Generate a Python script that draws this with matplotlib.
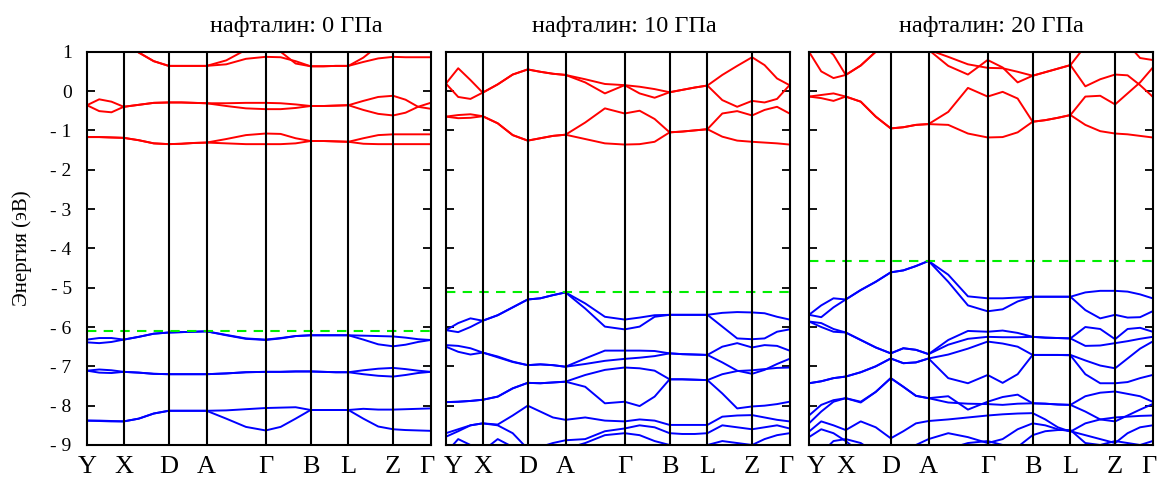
import numpy as np
import matplotlib
matplotlib.use("Agg")
import matplotlib.pyplot as plt
import matplotlib.transforms as mtrans

plt.rcParams['font.family'] = ['Liberation Serif', 'DejaVu Serif']

# high-symmetry path (relative positions along k-path)
kpoints = ['Y', 'X', 'D', 'A', 'Γ', 'B', 'L', 'Z', 'Γ']
kpos = [0, 0.107, 0.238, 0.348, 0.52, 0.651, 0.761, 0.891, 1.0]

titles = ['нафталин: 0 ГПа', 'нафталин: 10 ГПа', 'нафталин: 20 ГПа']
vbm = [-6.11, -5.12, -4.32]
yticks = [1, 0, -1, -2, -3, -4, -5, -6, -7, -8, -9]
yticklabels = ['1', '0', '- 1', '- 2', '- 3', '- 4', '- 5', '- 6', '- 7', '- 8', '- 9']

# energies (eV) at each point and at 1/3, 2/3 of every segment (25 values)
cond_0 = [
    [-1.17, -1.17, -1.18, -1.19, -1.25, -1.33, -1.35, -1.34, -1.32, -1.31, -1.33, -1.35, -1.35, -1.35, -1.33, -1.27, -1.27, -1.28, -1.29, -1.34, -1.35, -1.35, -1.35, -1.35, -1.35],
    [-1.17, -1.17, -1.18, -1.19, -1.25, -1.33, -1.35, -1.34, -1.32, -1.31, -1.22, -1.12, -1.08, -1.09, -1.2, -1.27, -1.27, -1.28, -1.29, -1.2, -1.12, -1.1, -1.1, -1.1, -1.1],
    [-0.36, -0.51, -0.54, -0.4, -0.35, -0.3, -0.29, -0.29, -0.3, -0.31, -0.38, -0.44, -0.46, -0.46, -0.43, -0.38, -0.38, -0.37, -0.36, -0.48, -0.58, -0.62, -0.55, -0.4, -0.3],
    [-0.36, -0.21, -0.27, -0.4, -0.35, -0.3, -0.29, -0.29, -0.3, -0.31, -0.31, -0.3, -0.3, -0.31, -0.34, -0.38, -0.38, -0.37, -0.36, -0.25, -0.15, -0.12, -0.22, -0.4, -0.45],
    [1.3, 1.3, 1.25, 1.2, 0.98, 0.76, 0.64, 0.64, 0.64, 0.64, 0.68, 0.82, 0.87, 0.86, 0.76, 0.63, 0.63, 0.64, 0.64, 0.74, 0.83, 0.87, 0.86, 0.86, 0.86],
    [1.5, 1.45, 1.4, 1.35, 0.98, 0.76, 0.64, 0.64, 0.64, 0.64, 0.78, 1.05, 1.3, 1.0, 0.7, 0.63, 0.63, 0.64, 0.64, 0.85, 1.15, 1.4, 1.45, 1.5, 1.5],
]
val_0 = [
    [-6.32, -6.28, -6.28, -6.32, -6.25, -6.17, -6.14, -6.13, -6.12, -6.11, -6.2, -6.29, -6.32, -6.28, -6.23, -6.21, -6.21, -6.21, -6.21, -6.22, -6.23, -6.24, -6.27, -6.31, -6.33],
    [-6.39, -6.41, -6.38, -6.32, -6.25, -6.17, -6.14, -6.13, -6.12, -6.11, -6.21, -6.3, -6.33, -6.29, -6.23, -6.21, -6.21, -6.21, -6.21, -6.32, -6.44, -6.49, -6.45, -6.38, -6.33],
    [-7.11, -7.08, -7.1, -7.14, -7.16, -7.19, -7.2, -7.2, -7.2, -7.2, -7.18, -7.15, -7.14, -7.14, -7.13, -7.13, -7.14, -7.15, -7.15, -7.1, -7.06, -7.04, -7.07, -7.11, -7.14],
    [-7.11, -7.16, -7.17, -7.14, -7.16, -7.19, -7.2, -7.2, -7.2, -7.2, -7.18, -7.15, -7.14, -7.14, -7.13, -7.13, -7.14, -7.15, -7.15, -7.2, -7.24, -7.26, -7.22, -7.17, -7.14],
    [-8.38, -8.38, -8.39, -8.4, -8.33, -8.2, -8.13, -8.13, -8.13, -8.13, -8.12, -8.09, -8.06, -8.05, -8.04, -8.11, -8.11, -8.11, -8.11, -8.08, -8.1, -8.1, -8.09, -8.08, -8.07],
    [-8.38, -8.39, -8.4, -8.4, -8.33, -8.2, -8.13, -8.13, -8.13, -8.13, -8.33, -8.54, -8.63, -8.54, -8.33, -8.11, -8.11, -8.11, -8.11, -8.33, -8.53, -8.6, -8.62, -8.63, -8.64],
]

cond_10 = [
    [-0.65, -0.69, -0.68, -0.64, -0.82, -1.12, -1.26, -1.2, -1.14, -1.11, -1.22, -1.33, -1.36, -1.35, -1.29, -1.05, -1.03, -1.0, -0.97, -1.16, -1.26, -1.29, -1.31, -1.33, -1.36],
    [-0.65, -0.61, -0.59, -0.64, -0.82, -1.12, -1.26, -1.2, -1.14, -1.11, -0.8, -0.44, -0.57, -0.5, -0.71, -1.05, -1.03, -1.0, -0.97, -0.57, -0.51, -0.62, -0.48, -0.4, -0.57],
    [0.19, -0.15, -0.2, -0.04, 0.17, 0.42, 0.55, 0.49, 0.44, 0.41, 0.22, -0.06, 0.15, -0.06, -0.17, -0.03, 0.03, 0.09, 0.14, -0.23, -0.4, -0.25, -0.29, -0.2, 0.15],
    [0.19, 0.58, 0.28, -0.04, 0.17, 0.42, 0.55, 0.49, 0.44, 0.41, 0.3, 0.18, 0.15, 0.11, 0.05, -0.03, 0.03, 0.09, 0.14, 0.41, 0.64, 0.86, 0.66, 0.32, 0.15],
]
val_10 = [
    [-6.08, -5.9, -5.78, -5.84, -5.7, -5.5, -5.3, -5.27, -5.19, -5.12, -5.4, -5.74, -5.81, -5.76, -5.7, -5.69, -5.69, -5.69, -5.69, -5.64, -5.62, -5.63, -5.65, -5.74, -5.81],
    [-6.08, -6.13, -6.0, -5.84, -5.7, -5.5, -5.3, -5.27, -5.19, -5.12, -5.53, -5.99, -6.06, -5.99, -5.74, -5.69, -5.69, -5.69, -5.69, -5.99, -6.29, -6.31, -6.29, -6.12, -6.06],
    [-6.46, -6.48, -6.54, -6.65, -6.75, -6.88, -6.97, -6.95, -6.97, -7.01, -6.8, -6.6, -6.6, -6.6, -6.61, -6.67, -6.69, -6.7, -6.71, -6.5, -6.41, -6.52, -6.46, -6.48, -6.6],
    [-6.5, -6.63, -6.7, -6.65, -6.77, -6.89, -6.97, -6.95, -6.97, -7.01, -6.94, -6.86, -6.81, -6.78, -6.74, -6.67, -6.69, -6.7, -6.71, -6.9, -7.11, -7.19, -7.09, -6.94, -6.81],
    [-7.91, -7.9, -7.88, -7.85, -7.77, -7.56, -7.42, -7.43, -7.41, -7.39, -7.22, -7.09, -7.03, -7.05, -7.11, -7.33, -7.33, -7.34, -7.35, -7.2, -7.12, -7.1, -7.07, -7.04, -7.03],
    [-7.91, -7.9, -7.88, -7.85, -7.77, -7.56, -7.42, -7.43, -7.41, -7.39, -7.52, -7.94, -7.9, -8.01, -7.77, -7.33, -7.33, -7.34, -7.35, -7.69, -8.07, -8.02, -8.0, -7.96, -7.9],
    [-8.7, -8.6, -8.5, -8.45, -8.48, -8.25, -8.0, -8.15, -8.3, -8.36, -8.3, -8.38, -8.4, -8.35, -8.38, -8.49, -8.49, -8.49, -8.49, -8.28, -8.25, -8.24, -8.3, -8.36, -8.4],
    [-8.79, -8.65, -8.5, -8.45, -8.5, -8.7, -9.1, -9.05, -8.95, -8.88, -8.85, -8.65, -8.58, -8.5, -8.55, -8.7, -8.72, -8.72, -8.7, -8.5, -8.55, -8.6, -8.55, -8.5, -8.58],
    [-9.2, -8.85, -9.0, -9.15, -8.85, -9.05, -9.3, -9.3, -9.2, -9.1, -8.95, -8.75, -8.7, -8.75, -8.9, -9.0, -9.05, -9.0, -9.0, -8.9, -8.95, -9.0, -8.85, -8.75, -8.7],
]

cond_20 = [
    [-0.14, -0.18, -0.25, -0.14, -0.27, -0.65, -0.95, -0.92, -0.86, -0.84, -0.86, -1.08, -1.18, -1.17, -1.05, -0.78, -0.74, -0.68, -0.61, -0.86, -1.02, -1.08, -1.1, -1.14, -1.18],
    [-0.14, -0.1, -0.06, -0.14, -0.27, -0.65, -0.95, -0.92, -0.86, -0.84, -0.53, 0.08, -0.14, -0.02, -0.19, -0.78, -0.74, -0.68, -0.61, -0.14, -0.12, -0.34, -0.06, 0.22, 0.59],
    [1.0, 0.5, 0.33, 0.41, 0.65, 1.0, 1.3, 1.4, 1.3, 1.05, 0.64, 0.42, 0.79, 0.6, 0.22, 0.39, 0.48, 0.57, 0.66, 0.12, 0.3, 0.42, 0.4, 0.15, -0.14],
    [1.5, 1.2, 0.92, 0.41, 0.65, 1.0, 1.3, 1.4, 1.3, 1.05, 0.87, 0.68, 0.59, 0.58, 0.49, 0.39, 0.48, 0.57, 0.66, 1.15, 1.4, 1.5, 1.2, 0.84, 0.79],
]
val_20 = [
    [-5.69, -5.45, -5.27, -5.3, -5.06, -4.85, -4.61, -4.56, -4.45, -4.32, -4.67, -5.22, -5.27, -5.27, -5.25, -5.23, -5.23, -5.23, -5.23, -5.12, -5.08, -5.08, -5.1, -5.17, -5.27],
    [-5.69, -5.75, -5.5, -5.3, -5.06, -4.85, -4.61, -4.56, -4.45, -4.32, -4.85, -5.45, -5.6, -5.55, -5.35, -5.23, -5.23, -5.23, -5.23, -5.57, -5.78, -5.69, -5.76, -5.75, -5.6],
    [-5.86, -5.9, -6.05, -6.14, -6.33, -6.52, -6.67, -6.54, -6.58, -6.69, -6.33, -6.1, -6.12, -6.09, -6.15, -6.25, -6.27, -6.28, -6.29, -6.0, -6.05, -6.31, -6.05, -6.02, -6.12],
    [-5.86, -6.0, -6.12, -6.14, -6.33, -6.52, -6.67, -6.54, -6.58, -6.69, -6.45, -6.3, -6.25, -6.26, -6.26, -6.25, -6.27, -6.28, -6.29, -6.48, -6.47, -6.41, -6.36, -6.3, -6.25],
    [-7.43, -7.38, -7.3, -7.26, -7.15, -7.0, -6.8, -6.92, -6.9, -6.8, -6.7, -6.55, -6.37, -6.42, -6.5, -6.71, -6.71, -6.71, -6.71, -6.85, -6.98, -7.05, -6.8, -6.55, -6.37],
    [-7.43, -7.38, -7.3, -7.26, -7.15, -7.0, -6.8, -6.92, -6.9, -6.8, -7.3, -7.43, -7.22, -7.42, -7.2, -6.71, -6.71, -6.71, -6.72, -7.2, -7.43, -7.43, -7.4, -7.3, -7.22],
    [-8.25, -7.98, -7.86, -7.81, -7.92, -7.65, -7.3, -7.52, -7.75, -7.81, -7.76, -8.1, -7.9, -7.78, -7.72, -7.94, -7.95, -7.97, -7.98, -7.76, -7.67, -7.64, -7.7, -7.76, -7.9],
    [-8.45, -8.15, -7.9, -7.81, -7.9, -7.65, -7.3, -7.52, -7.75, -7.81, -7.92, -7.95, -7.96, -7.98, -7.95, -7.94, -7.95, -7.97, -7.98, -8.15, -8.35, -8.4, -8.25, -8.1, -7.96],
    [-8.66, -8.4, -8.5, -8.62, -8.4, -8.55, -8.83, -8.65, -8.45, -8.39, -8.35, -8.3, -8.25, -8.22, -8.2, -8.19, -8.35, -8.55, -8.66, -8.45, -8.35, -8.3, -8.28, -8.26, -8.25],
    [-8.8, -8.6, -8.7, -8.9, -9.2, -9.3, -9.3, -9.2, -9.0, -8.85, -8.7, -8.8, -8.95, -8.85, -8.6, -8.45, -8.5, -8.6, -8.65, -8.75, -8.85, -8.95, -8.7, -8.55, -8.5],
    [-9.3, -9.2, -8.9, -8.85, -8.95, -9.2, -9.4, -9.3, -9.25, -9.3, -9.1, -8.95, -8.9, -9.0, -9.05, -8.75, -8.65, -8.62, -8.62, -8.95, -9.0, -8.9, -8.95, -9.0, -8.9],
]

# k grid: each segment sampled at its start, 1/3 and 2/3, plus the last point
kgrid = []
for a, b in zip(kpos[:-1], kpos[1:]):
    kgrid += [a, a + (b - a) / 3, a + 2 * (b - a) / 3]
kgrid.append(kpos[-1])
kgrid = np.array(kgrid)

fig = plt.figure(figsize=(11.58, 4.79), dpi=100)
lefts = [0.0751, 0.3851, 0.6986]
panels = [(cond_0, val_0), (cond_10, val_10), (cond_20, val_20)]
title_x = [0.61, 0.52, 0.53]

for i, (cond, val) in enumerate(panels):
    ax = fig.add_axes([lefts[i], 0.071, 0.2967, 0.821])
    for band in cond:
        ax.plot(kgrid, band, color='#ff0000', lw=1.4)
    for band in val:
        ax.plot(kgrid, band, color='#0000ff', lw=1.4)
    ax.axhline(vbm[i], color='#00ee00', lw=1.5, ls=(0, (4.5, 3.5)))
    for k in kpos[1:-1]:
        ax.axvline(k, color='black', lw=1.5)
    ax.set_xlim(0, 1)
    ax.set_ylim(-9, 1)
    ax.set_xticks(kpos)
    ax.set_xticklabels(kpoints, fontsize=19)
    ax.tick_params(axis='x', length=0, pad=8)
    # nudge edge labels apart where panels meet
    lbls = ax.get_xticklabels()
    if i > 0:
        lbls[0].set_transform(lbls[0].get_transform() + mtrans.ScaledTranslation(5 / 72, 0, fig.dpi_scale_trans))
    lbls[-1].set_transform(lbls[-1].get_transform() + mtrans.ScaledTranslation(-3 / 72, 0, fig.dpi_scale_trans))
    ax.set_yticks(yticks)
    ax.tick_params(axis='y', direction='in', length=6, width=1.3, left=True, right=True, pad=11)
    if i == 0:
        ax.set_yticklabels(yticklabels, fontsize=14)
    else:
        ax.set_yticklabels([])
    for s in ax.spines.values():
        s.set_linewidth(1.5)
    ax.text(title_x[i], 1.065, titles[i], transform=ax.transAxes, ha='center', va='center', fontsize=17.5)

fig.text(0.019, 0.481, 'Энергия (эВ)', rotation=90, ha='center', va='center', fontsize=15)

fig.savefig('out.png', dpi=100)
